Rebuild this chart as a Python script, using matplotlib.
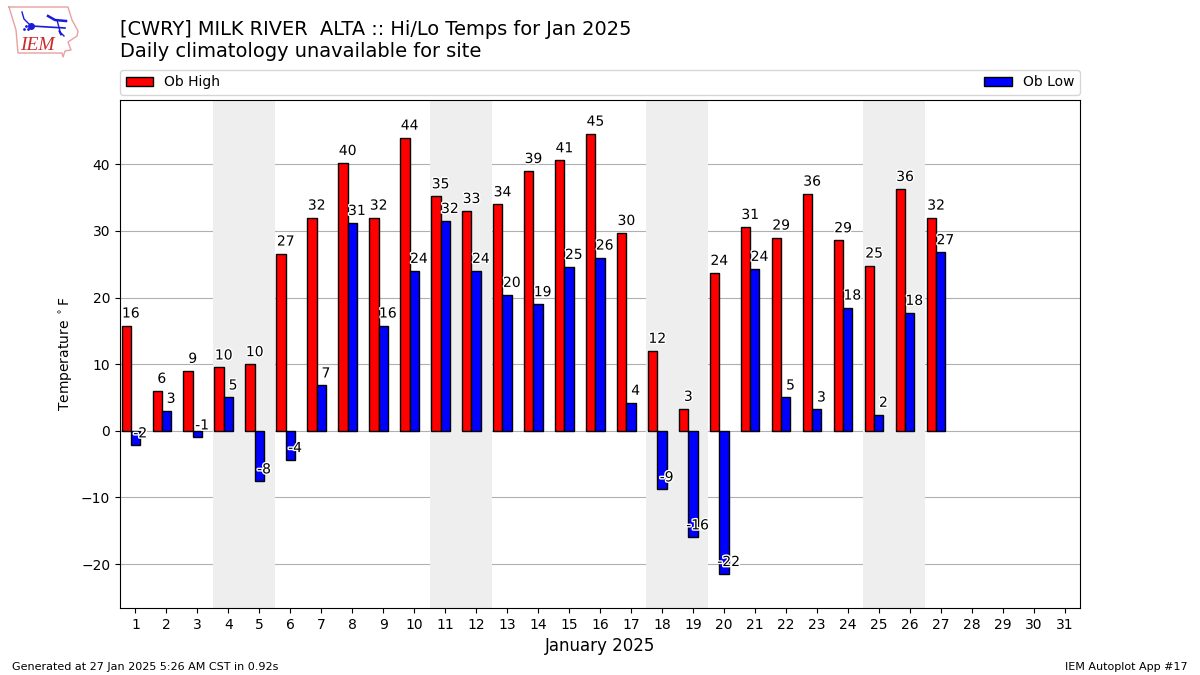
import matplotlib
matplotlib.use("Agg")
import matplotlib.pyplot as plt
import matplotlib.patheffects as pe
import numpy as np

days = list(range(1, 28))
highs = [15.8, 6, 9, 9.5, 10, 26.6, 32, 40.2, 32, 44, 35.2, 33, 34, 39, 40.6, 44.6, 29.7,
         12, 3.3, 23.7, 30.6, 29, 35.6, 28.6, 24.8, 36.3, 32]
lows = [-2.2, 3, -1, 5, -7.6, -4.4, 6.8, 31.2, 15.8, 24, 31.5, 24, 20.4, 19, 24.6, 26, 4.2,
        -8.8, -16, -21.5, 24.3, 5, 3.2, 18.5, 2.4, 17.7, 26.8]
weekends = [(3.5, 5.5), (10.5, 12.5), (17.5, 19.5), (24.5, 26.5)]
title = "[CWRY] MILK RIVER  ALTA :: Hi/Lo Temps for Jan 2025\nDaily climatology unavailable for site"

fig = plt.figure(figsize=(12, 6.75), dpi=100)
ax = fig.add_axes([120 / 1200, 1 - 608 / 675, (1080 - 120) / 1200, (608 - 100) / 675])
days_arr = np.array(days)
for a, b in weekends:
    ax.axvspan(a, b, color="#eeeeee", lw=0, zorder=1)
ax.bar(days_arr - 0.3, highs, width=0.3, color="red", edgecolor="k", lw=1, label="Ob High", zorder=3)
ax.bar(days_arr, lows, width=0.3, color="blue", edgecolor="k", lw=1, label="Ob Low", zorder=3)
stroke = [pe.withStroke(linewidth=2, foreground="white")]
for d, h, l in zip(days, highs, lows):
    ax.text(d - 0.15, h + 0.75, f"{h:.0f}", ha="center", va="bottom", fontsize=10, zorder=5, path_effects=stroke)
    ax.text(d + 0.15, l + 0.75, f"{l:.0f}", ha="center", va="bottom", fontsize=10, zorder=5, path_effects=stroke)
ax.set_xlim(0.5, 31.5)
ax.set_ylim(-26.6, 49.65)
ax.set_xticks(range(1, 32))
ax.set_yticks(range(-20, 41, 10))
ax.yaxis.grid(True, color="#b0b0b0", lw=0.8, zorder=2)
ax.set_axisbelow(True)
ax.set_xlabel("January 2025", fontsize=12)
ax.set_ylabel(r"Temperature $^\circ$F", labelpad=4)
ax.legend(loc="lower left", bbox_to_anchor=(0, 1.01, 1, 0.05), ncol=2, mode="expand",
          borderaxespad=0, fontsize=10)
fig.text(120 / 1200, 1 - 61 / 675, title, fontsize=13.97, ha="left", va="bottom", linespacing=1.2)
fig.text(12 / 1200, 1 - 667 / 675, "Generated at 27 Jan 2025 5:26 AM CST in 0.92s", fontsize=8, va="center")
fig.text(1188 / 1200, 1 - 667 / 675, "IEM Autoplot App #17", fontsize=8, ha="right", va="center")

# IEM logo, drawn in pixel coordinates
lg = fig.add_axes([0, 1 - 60 / 675, 85 / 1200, 60 / 675])
lg.set_xlim(0, 85)
lg.set_ylim(60, 0)
lg.axis("off")
lg.plot([9, 68, 72, 78, 77, 68, 71, 65, 63, 62, 18, 16, 9], [7, 7, 20, 31, 36, 42, 50, 51, 57, 53, 53, 30, 7],
        color="#e9a0a0", lw=1)
lg.plot([22, 24, 31], [12, 19, 26], color="#1a1ad8", lw=1)
lg.plot([31, 65], [26, 28], color="#1a1ad8", lw=1.2)
lg.plot([31], [26], "o", color="#1a1ad8", ms=4)
lg.plot([48, 55, 66], [16, 20, 21], color="#1a1ad8", lw=1.8)
lg.plot([57, 61, 59, 64], [20, 35, 31, 36], color="#1a1ad8", lw=1)
lg.plot([24, 26, 28], [29, 26, 29], ".", color="#1a1ad8", ms=2)
lg.text(20, 45, "IEM", color="#cc2a2a", fontsize=14, family="Liberation Serif", style="italic", va="center")
fig.savefig("out.png", dpi=100)
